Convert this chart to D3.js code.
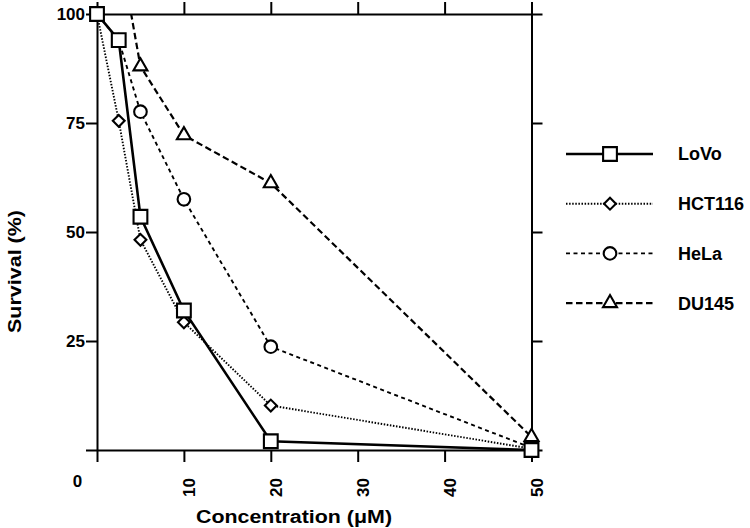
<!DOCTYPE html>
<html lang="en">
<head>
    <meta charset="UTF-8">
    <title>Survival vs concentration</title>
    <script src="https://cdn.jsdelivr.net/npm/d3@7"></script>
    <style>
        html, body {
            margin: 0;
            background: #fff;
        }
        text {
            font-family: "Liberation Sans", Arial, sans-serif;
            font-weight: bold;
            fill: #000;
        }
    </style>
</head>
<body>
<script>

    // concentrations (uM) shared by every cell line
    var conc = [0, 2.5, 5, 10, 20, 50];

    var seriesNames = ["LoVo", "HCT116", "HeLa", "DU145"];
    var lovo = [100, 94, 53.5, 32, 2, 0];
    var hct116 = [100, 75.5, 48.2, 29.3, 10.2, 0.3];
    var hela = [100, 94, 77.6, 57.5, 23.7, 0.5];
    var du145 = [null, 116, 88, 72.2, 61.2, 3];

    var yTicks = [0, 25, 50, 75, 100];
    var xTicks = [0, 10, 20, 30, 40, 50];

    var plot = {left: 97, right: 531.5, top: 14, bottom: 450};

    var x = d3.scaleLinear().domain([0, 50]).range([plot.left, plot.right]);
    var y = d3.scaleLinear().domain([0, 100]).range([plot.bottom, plot.top]);

    var svg = d3.select("body").append("svg")
        .attr("width", 750).attr("height", 528);

    svg.append("defs").append("clipPath").attr("id", "plot")
        .append("rect")
        .attr("x", plot.left).attr("y", plot.top)
        .attr("width", plot.right - plot.left).attr("height", plot.bottom - plot.top);

    // ---- axes (frame with outward ticks) ----
    function styleAxis(g) {
        g.selectAll("path, line").attr("stroke", "#000").attr("stroke-width", 2);
        g.selectAll("text").remove();
    }

    svg.append("g").attr("transform", "translate(" + plot.left + ",0)")
        .call(d3.axisLeft(y).tickValues(yTicks).tickSize(11).tickSizeOuter(0))
        .call(styleAxis);
    svg.append("g").attr("transform", "translate(" + plot.right + ",0)")
        .call(d3.axisRight(y).tickValues(yTicks).tickSize(11).tickSizeOuter(0))
        .call(styleAxis);
    svg.append("g").attr("transform", "translate(0," + plot.top + ")")
        .call(d3.axisTop(x).tickValues(xTicks).tickSize(12).tickSizeOuter(0))
        .call(styleAxis);
    svg.append("g").attr("transform", "translate(0," + plot.bottom + ")")
        .call(d3.axisBottom(x).tickValues(xTicks).tickSize(12).tickSizeOuter(0))
        .call(styleAxis);

    // y tick labels
    svg.selectAll(".ylab").data(yTicks.filter(function (d) { return d > 0; }))
        .enter().append("text")
        .attr("x", 85).attr("y", function (d) { return y(d); })
        .attr("dy", "0.36em")
        .attr("text-anchor", "end")
        .style("font-size", "17px")
        .text(function (d) { return d; });

    // x tick labels (rotated, 0 drawn flat at the corner)
    svg.selectAll(".xlab").data(xTicks.filter(function (d) { return d > 0; }))
        .enter().append("text")
        .attr("transform", function (d) { return "translate(" + x(d) + ",478) rotate(-90)"; })
        .attr("dy", "0.66em")
        .attr("text-anchor", "end")
        .style("font-size", "17px")
        .text(function (d) { return d; });

    svg.append("text")
        .attr("x", 77.5).attr("y", 480.5).attr("dy", "0.36em")
        .attr("text-anchor", "middle")
        .style("font-size", "17px")
        .text("0");

    // axis titles
    svg.append("text")
        .attr("x", 196).attr("y", 523)
        .attr("textLength", 196).attr("lengthAdjust", "spacingAndGlyphs")
        .style("font-size", "18px")
        .text("Concentration (\u03bcM)");

    svg.append("text")
        .attr("transform", "translate(21,333) rotate(-90)")
        .attr("textLength", 123).attr("lengthAdjust", "spacingAndGlyphs")
        .style("font-size", "17.5px")
        .text("Survival (%)");

    // ---- series ----
    var series = [
        {name: seriesNames[0], values: lovo, dash: null, width: 2.6, symbol: d3.symbolSquare, size: 190, rot: 0},
        {name: seriesNames[1], values: hct116, dash: "1.5,1.6", width: 1.9, symbol: d3.symbolSquare, size: 70, rot: 45},
        {name: seriesNames[2], values: hela, dash: "4,3.5", width: 1.9, symbol: d3.symbolCircle, size: 125, rot: 0},
        {name: seriesNames[3], values: du145, dash: "6.5,3.5", width: 2.2, symbol: d3.symbolTriangle, size: 85, rot: 0}
    ];

    var line = d3.line()
        .defined(function (d) { return d[1] != null; })
        .x(function (d) { return x(d[0]); })
        .y(function (d) { return y(d[1]); });

    function pts(s) {
        return conc.map(function (c, i) { return [c, s.values[i]]; });
    }

    var drawOrder = series.slice().reverse();

    svg.append("g").attr("clip-path", "url(#plot)")
        .selectAll("path").data(drawOrder).enter().append("path")
        .attr("d", function (s) { return line(pts(s)); })
        .attr("fill", "none")
        .attr("stroke", "#000")
        .attr("stroke-width", function (s) { return s.width; })
        .attr("stroke-dasharray", function (s) { return s.dash; });

    drawOrder.forEach(function (s) {
        var sym = d3.symbol().type(s.symbol).size(s.size);
        svg.append("g").selectAll("path")
            .data(pts(s).filter(function (d) { return d[1] != null && d[1] <= 100; }))
            .enter().append("path")
            .attr("d", sym)
            .attr("transform", function (d) {
                return "translate(" + x(d[0]) + "," + y(d[1]) + ") rotate(" + s.rot + ")";
            })
            .attr("fill", "#fff")
            .attr("stroke", "#000")
            .attr("stroke-width", 2.1);
    });

    // ---- legend ----
    var legend = svg.append("g").selectAll("g").data(series).enter().append("g")
        .attr("transform", function (s, i) { return "translate(0," + (154 + i * 49.7) + ")"; });

    legend.append("line")
        .attr("x1", 566).attr("x2", 653)
        .attr("stroke", "#000")
        .attr("stroke-width", function (s) { return s.width; })
        .attr("stroke-dasharray", function (s) { return s.dash; });

    legend.append("path")
        .attr("d", function (s) { return d3.symbol().type(s.symbol).size(s.size)(); })
        .attr("transform", function (s) { return "translate(610,0) rotate(" + s.rot + ")"; })
        .attr("fill", "#fff")
        .attr("stroke", "#000")
        .attr("stroke-width", 2.1);

    legend.append("text")
        .attr("x", 678).attr("dy", "0.36em")
        .style("font-size", "18px")
        .text(function (s) { return s.name; });

</script>
</body>
</html>
